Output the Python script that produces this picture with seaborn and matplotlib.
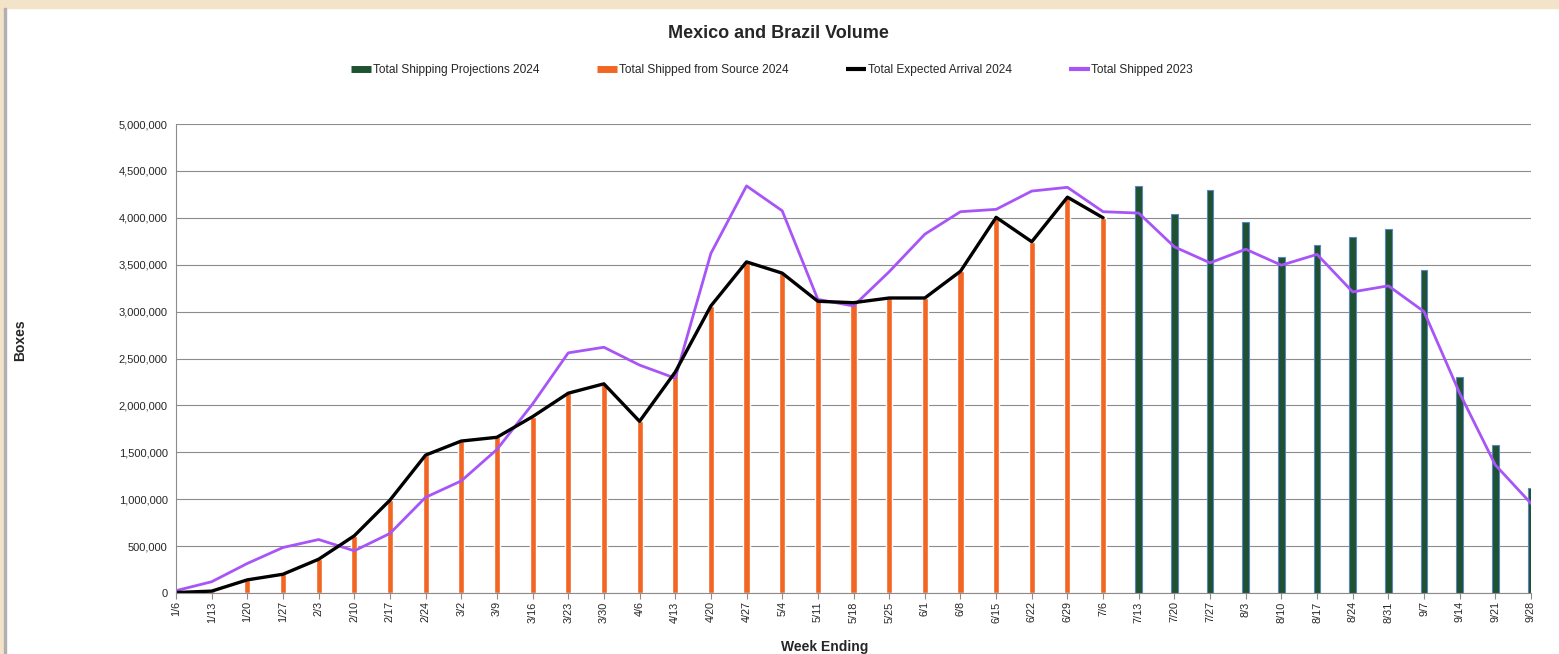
import numpy as np
import pandas as pd
import seaborn as sns
import matplotlib.pyplot as plt
from matplotlib.lines import Line2D
from matplotlib.patches import Rectangle
from matplotlib.ticker import FuncFormatter

weeks = ["1/6", "1/13", "1/20", "1/27", "2/3", "2/10", "2/17", "2/24", "3/2", "3/9",
         "3/16", "3/23", "3/30", "4/6", "4/13", "4/20", "4/27", "5/4", "5/11", "5/18",
         "5/25", "6/1", "6/8", "6/15", "6/22", "6/29", "7/6", "7/13", "7/20", "7/27",
         "8/3", "8/10", "8/17", "8/24", "8/31", "9/7", "9/14", "9/21", "9/28"]

# shipped from source 2024 (1/6 .. 7/6)
shipped_2024 = [5000, 20000, 140000, 200000, 360000, 610000, 990000, 1470000, 1620000, 1660000,
                1880000, 2130000, 2230000, 1830000, 2355000, 3060000, 3530000, 3410000, 3110000, 3095000,
                3145000, 3145000, 3430000, 4005000, 3745000, 4220000, 4000000]
# expected arrival 2024 (1/6 .. 7/6)
arrival_2024 = [5000, 20000, 140000, 200000, 360000, 610000, 990000, 1470000, 1620000, 1660000,
                1880000, 2130000, 2230000, 1830000, 2355000, 3060000, 3530000, 3410000, 3110000, 3095000,
                3145000, 3145000, 3430000, 4005000, 3745000, 4220000, 4000000]
# shipping projections 2024 (7/13 .. 9/28)
projections_2024 = [4340000, 4040000, 4295000, 3950000, 3585000, 3710000, 3800000, 3885000,
                    3440000, 2300000, 1580000, 1115000]
# shipped 2023 (all weeks)
shipped_2023 = [25000, 120000, 315000, 485000, 570000, 450000, 635000, 1020000, 1195000, 1530000,
                2015000, 2560000, 2620000, 2430000, 2290000, 3620000, 4340000, 4075000, 3130000, 3060000,
                3425000, 3825000, 4065000, 4090000, 4285000, 4325000, 4065000, 4050000, 3690000, 3520000,
                3665000, 3495000, 3610000, 3210000, 3275000, 3000000, 2130000, 1365000, 955000]

orange = "#f26522"
green = "#1e5230"
blue_edge = "#5b86c4"
purple = "#a855f7"
grid_c = "#8c8c8c"

sns.set_style("white")
plt.rcParams["font.family"] = ["Liberation Sans", "DejaVu Sans"]

fig = plt.figure(figsize=(15.59, 6.54), dpi=100)
ax = fig.add_axes([176 / 1559, 1 - 593 / 654, (1531 - 176) / 1559, (593 - 124) / 654])

sns.barplot(x=weeks[:len(shipped_2024)], y=shipped_2024, order=weeks, color=orange,
            width=0.17, saturation=1, ax=ax)
sns.barplot(x=weeks[len(shipped_2024):], y=projections_2024, order=weeks, color=green,
            width=0.19, saturation=1, edgecolor=blue_edge, linewidth=0.8, ax=ax)
sns.lineplot(x=np.arange(len(shipped_2023)), y=shipped_2023, color=purple, lw=2.0, ax=ax)
sns.lineplot(x=np.arange(len(arrival_2024)), y=arrival_2024, color="black", lw=2.4, ax=ax)

ax.set_xlim(0, len(weeks) - 1)
ax.set_ylim(0, 5000000)
ax.set_yticks(np.arange(0, 5000001, 500000))
ax.yaxis.set_major_formatter(FuncFormatter(lambda v, p: f"{int(v):,}"))
ax.set_xticks(np.arange(len(weeks)))
ax.set_xticklabels(weeks, rotation=90, fontsize=7.8)
ax.tick_params(axis="y", labelsize=8, length=0, pad=6)
ax.tick_params(axis="x", length=4, color=grid_c, pad=2, bottom=True)
ax.grid(axis="y", color=grid_c, lw=0.8)
ax.set_axisbelow(True)
for s in ["top", "right"]:
    ax.spines[s].set_visible(False)
for s in ["left", "bottom"]:
    ax.spines[s].set_color(grid_c)
    ax.spines[s].set_linewidth(0.8)
ax.set_xlabel("")
ax.set_ylabel("")

fig.text(20 / 1559, 1 - 340 / 654, "Boxes", rotation=90, fontsize=10, fontweight="bold",
         ha="center", va="center")
fig.text(825 / 1559, 1 - 647 / 654, "Week Ending", fontsize=10, fontweight="bold",
         ha="center", va="center")
fig.text(778 / 1559, 1 - 34 / 654, "Mexico and Brazil Volume", fontsize=13, fontweight="bold",
         ha="center", va="center")

handles = [Line2D([], [], color=green, lw=5, solid_capstyle="butt"),
           Line2D([], [], color=orange, lw=5, solid_capstyle="butt"),
           Line2D([], [], color="black", lw=3, solid_capstyle="butt"),
           Line2D([], [], color=purple, lw=3, solid_capstyle="butt")]
labels = ["Total Shipping Projections 2024", "Total Shipped from Source 2024",
          "Total Expected Arrival 2024", "Total Shipped 2023"]
fig.legend(handles, labels, loc="center", bbox_to_anchor=(772 / 1559, 1 - 70 / 654), ncol=4,
           frameon=False, fontsize=8.6, handlelength=1.7, handletextpad=0.15, columnspacing=4.8)

# beige page frame
fig.patches.append(Rectangle((0, 1 - 8 / 654), 1, 8 / 654, transform=fig.transFigure,
                             color="#f3e3c8", zorder=-1))
fig.patches.append(Rectangle((0, 0), 4 / 1559, 1, transform=fig.transFigure,
                             color="#f3e3c8", zorder=-1))
fig.patches.append(Rectangle((4 / 1559, 0), 1.5 / 1559, 1 - 8 / 654, transform=fig.transFigure,
                             color="#b0b0b0", zorder=-1))

fig.savefig("out.png", dpi=100)
